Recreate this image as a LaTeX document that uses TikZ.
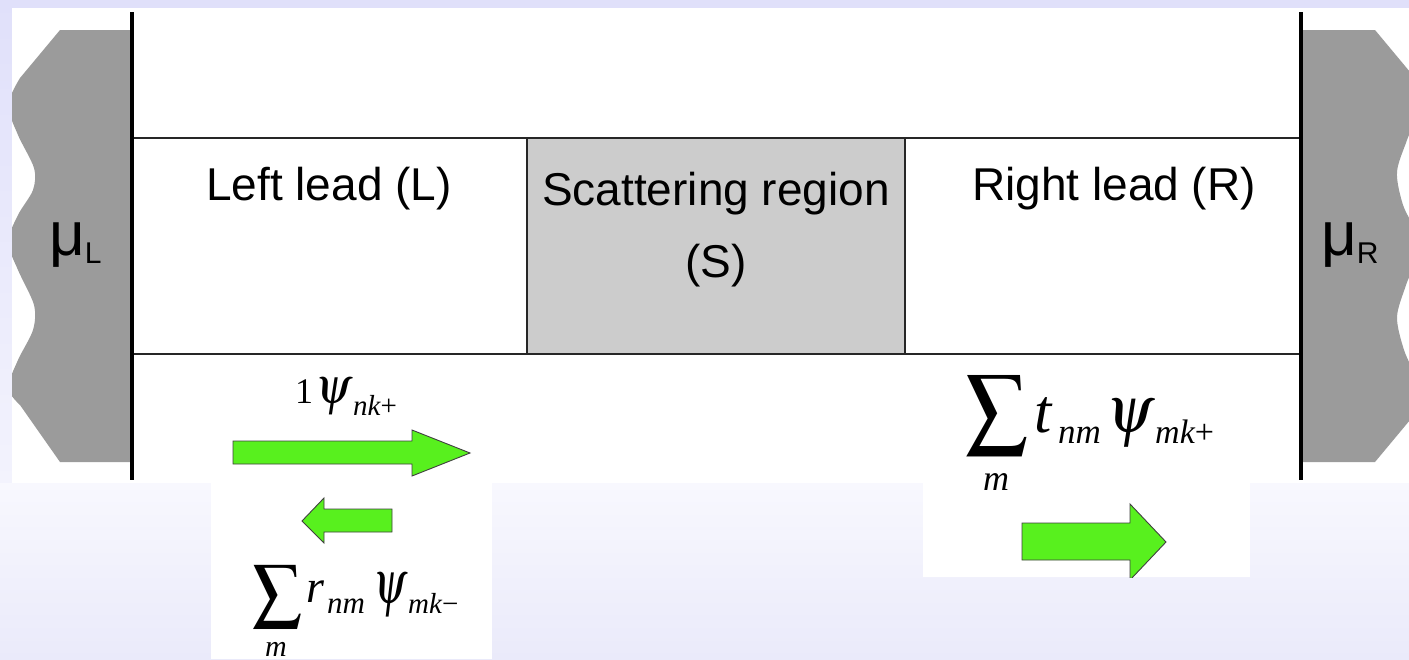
\documentclass[tikz,border=0pt]{standalone}
\usepackage{mathptmx}
\usepackage{graphicx}
\usepackage[no-math]{fontspec}
\setmainfont{Liberation Sans}
\newfontfamily\tms{Liberation Serif}
\definecolor{bgtop}{RGB}{224,224,250}
\definecolor{bgmid}{RGB}{243,243,253}
\definecolor{bglight}{RGB}{248,248,254}
\definecolor{bgbot}{RGB}{234,234,250}
\definecolor{leadgray}{RGB}{155,155,155}
\definecolor{scatgray}{RGB}{204,204,204}
\definecolor{arrowgreen}{RGB}{88,240,30}
\newcommand{\fs}[1]{\fontsize{#1}{#1}\selectfont}
\begin{document}
\begin{tikzpicture}[x=1pt,y=-1pt,
  lbl/.style={inner sep=0pt, anchor=base, font=\fontsize{46}{55}\selectfont},
  eqw/.style={inner sep=0pt, anchor=base west, font=\tms\itshape},
  eqc/.style={inner sep=0pt, anchor=center},
  greenarrow/.style={fill=arrowgreen, draw=black!75, line width=0.9pt, line join=miter},
  thickline/.style={line width=3.5pt, black},
  thinline/.style={line width=2pt, black!85},
  boxline/.style={line width=1.5pt, black!85}]
\useasboundingbox (0,0) rectangle (1409,659);
% background
\shade[top color=bgtop, bottom color=bgmid] (0,0) rectangle (1409,483);
\shade[top color=bglight, bottom color=bgbot] (0,483) rectangle (1409,659);
% white areas
\fill[white] (12,8) rectangle (1409,483);
\fill[white] (211,483) rectangle (492,659);
\fill[white] (923,483) rectangle (1250,577);
% leads
\begin{scope}
\clip (12,8) rectangle (1409,483);
\fill[leadgray] (132,30) -- (60,30) -- (20,78) -- plot[smooth] coordinates {(20,78) (8,105) (18,135) (34,168) (33,190) (18,215) (8,242) (18,270) (34,305) (33,330) (18,360) (8,388) (20,405)} -- (60,462) -- (132,462) -- cycle;
\fill[leadgray] (1300,30) -- (1375,30) -- (1410,72) -- plot[smooth] coordinates {(1410,72) (1420,105) (1407,140) (1397,172) (1403,205) (1420,245) (1406,285) (1397,317) (1404,350) (1420,390) (1410,420)} -- (1375,462) -- (1300,462) -- cycle;
\end{scope}
% scattering region
\fill[scatgray] (527,138) rectangle (905,354);
\draw[boxline] (527,138) -- (527,354);
\draw[boxline] (905,138) -- (905,354);
\draw[thinline] (132,138) -- (1301,138);
\draw[thinline] (132,354) -- (1301,354);
\draw[thickline] (132,12) -- (132,480);
\draw[thickline] (1301,12) -- (1301,480);
% labels
\node[lbl] (left) at (329,200) {Left lead (L)};
\node[lbl] (scat1) at (716,205) {Scattering region};
\node[lbl] (scat2) at (716,277) {(S)};
\node[lbl] (right) at (1114,200) {Right lead (R)};
\node[inner sep=0pt, anchor=base west] (muL) at (49,255) {\fs{62}μ\raisebox{-8pt}{\fs{30}L}};
\node[inner sep=0pt, anchor=base west] (muR) at (1321,255) {\fs{62}μ\raisebox{-8pt}{\fs{30}R}};
% incident wave
\node[eqw] (incOne) at (295,403) {\upshape\fs{36}1};
\node[eqc] (incPsi) at (334,396.5) {\resizebox*{37pt}{37pt}{$\psi$}};
\node[eqw] (incSub) at (353,415) {\fs{29}nk\upshape +};
% reflected wave
\node[eqc] (reflSum) at (278,596.5) {\resizebox*{50pt}{63pt}{$\displaystyle\sum$}};
\node[eqw, anchor=base] (reflM) at (276,656) {\fs{30}m};
\node[eqw] (reflR) at (306,602) {\fs{46}r};
\node[eqw] (reflSub1) at (327,613) {\fs{31}nm};
\node[eqc] (reflPsi) at (390.5,595) {\resizebox*{34pt}{44pt}{$\psi$}};
\node[eqw] (reflSub2) at (408,613) {\fs{29}mk\upshape −};
% transmitted wave
\node[eqc] (trSum) at (996.5,415.5) {\resizebox*{63pt}{80pt}{$\displaystyle\sum$}};
\node[eqw, anchor=base] (trM) at (996,490) {\fs{36}m};
\node[eqw] (trT) at (1034,432) {\fs{62}t};
\node[eqw] (trSub1) at (1058,443) {\fs{35}nm};
\node[eqc] (trPsi) at (1130,424) {\resizebox*{48pt}{48pt}{$\psi$}};
\node[eqw] (trSub2) at (1155,443) {\fs{34}mk\upshape +};
% arrows
\draw[greenarrow] (233,441) -- (412,441) -- (412,430) -- (470,453) -- (412,476) -- (412,464) -- (233,464) -- cycle;
\draw[greenarrow] (392,509) -- (324,509) -- (324,498) -- (302,521) -- (324,543) -- (324,532) -- (392,532) -- cycle;
\begin{scope}
\clip (923,483) rectangle (1250,577);
\draw[greenarrow] (1022,523) -- (1130,523) -- (1130,504) -- (1166,542) -- (1130,580) -- (1130,560) -- (1022,560) -- cycle;
\end{scope}
\end{tikzpicture}
\end{document}
